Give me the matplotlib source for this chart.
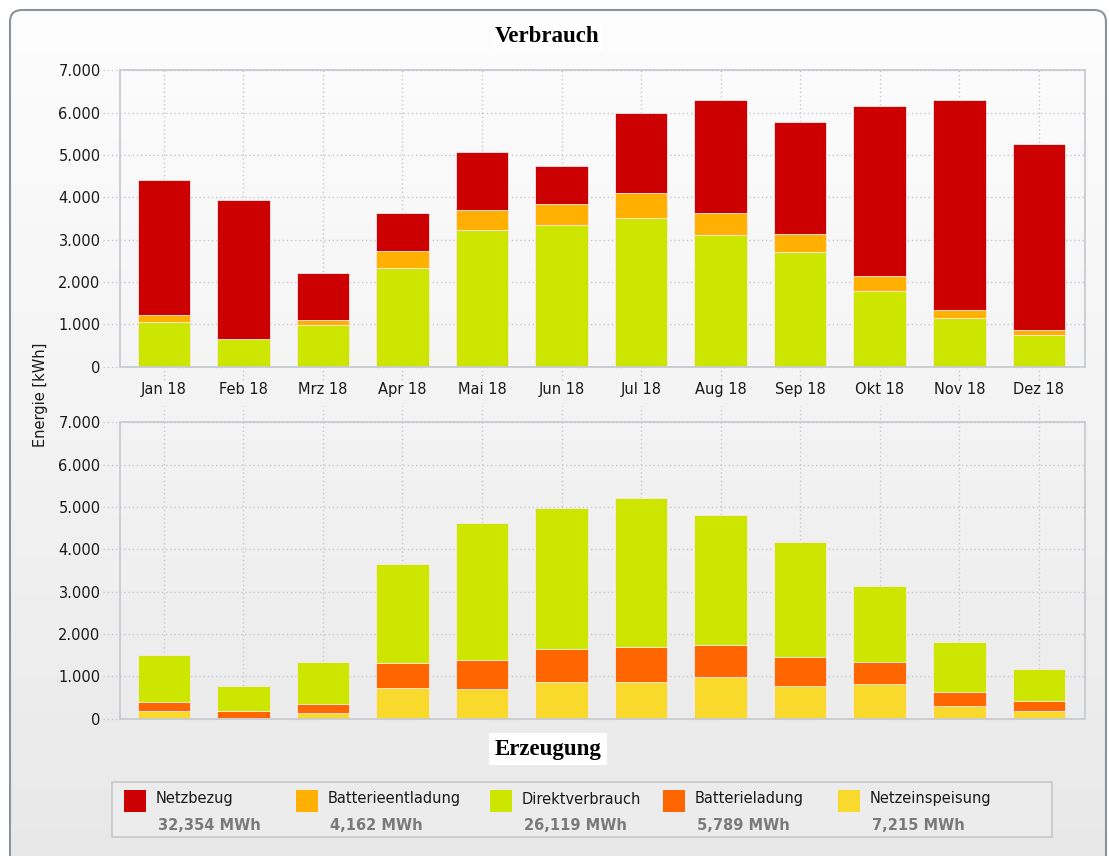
import matplotlib.pyplot as plt
import numpy as np
from matplotlib.patches import FancyBboxPatch, Rectangle
from matplotlib.ticker import FuncFormatter

# Monthly values in kWh
months = ['Jan 18', 'Feb 18', 'Mrz 18', 'Apr 18', 'Mai 18', 'Jun 18',
          'Jul 18', 'Aug 18', 'Sep 18', 'Okt 18', 'Nov 18', 'Dez 18']

# Verbrauch (stacked bottom -> top)
verb_direkt = [1063, 661, 985, 2339, 3222, 3340, 3506, 3104, 2702, 1781, 1142, 748]
verb_batterie = [165, 0, 118, 401, 480, 511, 590, 520, 440, 361, 197, 118]
verb_netz = [3189, 3276, 1117, 884, 1363, 890, 1890, 2676, 2639, 4009, 4961, 4395]

# Erzeugung (stacked bottom -> top)
erz_einspeisung = [182, 15, 142, 733, 694, 859, 859, 977, 780, 819, 292, 173]
erz_batterie = [205, 167, 205, 575, 685, 795, 842, 771, 685, 520, 331, 244]
erz_direkt = [1111, 598, 993, 2347, 3236, 3323, 3512, 3071, 2709, 1796, 1189, 757]

legend_names = ['Netzbezug', 'Batterieentladung', 'Direktverbrauch', 'Batterieladung', 'Netzeinspeisung']
legend_totals = ['32,354 MWh', '4,162 MWh', '26,119 MWh', '5,789 MWh', '7,215 MWh']

C_NETZ = '#cc0000'
C_BENT = '#ffb000'
C_DIREKT = '#cce600'
C_BLAD = '#ff6600'
C_EINSP = '#f9d92b'
legend_colors = [C_NETZ, C_BENT, C_DIREKT, C_BLAD, C_EINSP]

W, H = 1109, 856
fig = plt.figure(figsize=(W / 100, H / 100), dpi=100)
fig.patch.set_facecolor('white')

# rounded panel with a soft vertical gradient
bg = fig.add_axes([0, 0, 1, 1], zorder=-10)
bg.set_xlim(0, W)
bg.set_ylim(H, 0)
bg.axis('off')
grad = np.linspace(0, 1, 256).reshape(-1, 1)
cmap = plt.matplotlib.colors.LinearSegmentedColormap.from_list('g', ['#fdfdfd', '#f3f3f3', '#e8e8e8'])
img = bg.imshow(grad, cmap=cmap, extent=[10, 1106, 870, 10], aspect='auto')
panel = FancyBboxPatch((10, 10), 1096, 870, boxstyle='round,pad=0,rounding_size=12',
                       facecolor='none', edgecolor='#8c9299', linewidth=1.5)
bg.add_patch(panel)
img.set_clip_path(panel)

x = np.arange(len(months))
bw = 0.66
font = 'DejaVu Sans'
grid_c = '#c5c9ce'


def style_axes(ax, below_ext, above_ext):
    ax.set_facecolor('none')
    ax.set_xlim(-0.55, 11.58)
    ax.set_ylim(0, 7000)
    ax.set_yticks(range(0, 7001, 1000))
    ax.yaxis.set_major_formatter(FuncFormatter(lambda v, p: f'{int(v):,}'.replace(',', '.')))
    ax.set_xticks(x)
    ax.tick_params(length=0, labelsize=10.5, colors='#1a1a1a')
    ax.tick_params(axis='y', pad=14)
    ax.tick_params(axis='x', pad=11)
    for s in ax.spines.values():
        s.set_color('#c8ccd1')
        s.set_linewidth(1.3)
    for v in range(0, 7001, 1000):
        ax.axhline(v, xmin=-0.018, xmax=1, clip_on=False, color=grid_c,
                   linestyle=(0, (1, 2)), linewidth=1, zorder=0.5)
    for xi in x:
        ax.axvline(xi, ymin=-below_ext, ymax=1 + above_ext, clip_on=False, color=grid_c,
                   linestyle=(0, (1, 2)), linewidth=1, zorder=0.5)
    for lab in ax.get_yticklabels() + ax.get_xticklabels():
        lab.set_family(font)


edge = dict(edgecolor='#fbe8e8', linewidth=0.6)

ax1 = fig.add_axes([120 / W, 1 - 366.7 / H, 965 / W, 296.5 / H])
ax1.bar(x, verb_direkt, bw, color=C_DIREKT, zorder=2, **edge)
ax1.bar(x, verb_batterie, bw, bottom=verb_direkt, color=C_BENT, zorder=2, **edge)
ax1.bar(x, verb_netz, bw, bottom=np.add(verb_direkt, verb_batterie), color=C_NETZ, zorder=2, **edge)
style_axes(ax1, 0.045, 0)
ax1.set_xticklabels(months)

ax2 = fig.add_axes([120 / W, 1 - 718.7 / H, 965 / W, 296.5 / H])
ax2.bar(x, erz_einspeisung, bw, color=C_EINSP, zorder=2, **edge)
ax2.bar(x, erz_batterie, bw, bottom=erz_einspeisung, color=C_BLAD, zorder=2, **edge)
ax2.bar(x, erz_direkt, bw, bottom=np.add(erz_einspeisung, erz_batterie), color=C_DIREKT, zorder=2, **edge)
style_axes(ax2, 0, 0.055)
ax2.set_xticklabels([])

# titles with white boxes
fig.text(547 / W, 1 - 37 / H, 'Verbrauch', ha='center', va='center', family='Liberation Serif',
         fontweight='bold', fontsize=16.5,
         bbox=dict(facecolor='white', edgecolor='none', pad=2))
fig.text(548 / W, 1 - 749 / H, 'Erzeugung', ha='center', va='center', family='Liberation Serif',
         fontweight='bold', fontsize=16.5,
         bbox=dict(facecolor='white', edgecolor='none', pad=4))

fig.text(40 / W, 1 - 395 / H, 'Energie [kWh]', rotation=90, ha='center', va='center',
         family=font, fontsize=10.5, color='#1a1a1a')

# legend box
bg.add_patch(Rectangle((112, 782), 940, 55, facecolor='#ececec', edgecolor='#c4c8cc', linewidth=1.2))
sq_x = [124, 296, 490, 663, 838]
for sx, name, tot, col in zip(sq_x, legend_names, legend_totals, legend_colors):
    bg.add_patch(Rectangle((sx, 790), 22, 22, facecolor=col, edgecolor='none'))
    bg.text(sx + 32, 799, name, ha='left', va='center', family=font, fontsize=10.5, color='#1a1a1a')
    bg.text(sx + 34, 826, tot, ha='left', va='center', family=font, fontsize=10.5,
            fontweight='bold', color='#7a7a7a')

fig.savefig('out.png', dpi=100)
